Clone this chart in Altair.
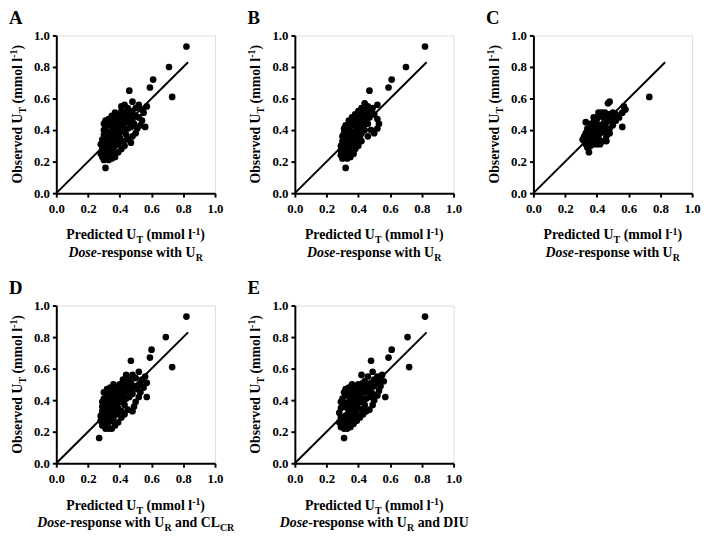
import altair as alt
import pandas as pd

# ---------------- data (predicted U_T, observed U_T) ----------------
A_PTS = [
    (0.82, 0.93), (0.71, 0.80), (0.61, 0.72), (0.59, 0.67), (0.73, 0.61), (0.46, 0.65), (0.56, 0.42), (0.31, 0.16),
    (0.48, 0.58), (0.52, 0.56), (0.57, 0.55), (0.55, 0.51), (0.43, 0.56), (0.45, 0.54), (0.50, 0.54), (0.54, 0.53),
    (0.47, 0.52), (0.41, 0.52), (0.39, 0.50), (0.37, 0.48), (0.35, 0.46), (0.33, 0.44), (0.31, 0.42), (0.30, 0.40),
    (0.54, 0.46), (0.52, 0.48), (0.53, 0.43), (0.51, 0.41), (0.50, 0.38), (0.48, 0.36), (0.47, 0.32), (0.45, 0.34),
    (0.43, 0.30), (0.41, 0.28), (0.39, 0.26), (0.37, 0.23), (0.35, 0.22), (0.33, 0.21), (0.30, 0.21), (0.29, 0.23),
    (0.28, 0.25), (0.29, 0.28), (0.28, 0.31), (0.29, 0.34), (0.30, 0.37), (0.31, 0.33),
    (0.32, 0.24), (0.34, 0.25), (0.36, 0.26), (0.31, 0.27), (0.33, 0.28), (0.35, 0.29), (0.37, 0.30), (0.39, 0.31),
    (0.32, 0.30), (0.34, 0.32), (0.36, 0.33), (0.38, 0.34), (0.40, 0.35), (0.42, 0.33), (0.44, 0.37), (0.33, 0.35),
    (0.35, 0.36), (0.37, 0.37), (0.39, 0.38), (0.41, 0.39), (0.43, 0.40), (0.45, 0.41), (0.47, 0.42), (0.49, 0.44),
    (0.32, 0.38), (0.34, 0.39), (0.36, 0.41), (0.38, 0.42), (0.40, 0.43), (0.42, 0.44), (0.44, 0.45), (0.46, 0.46),
    (0.48, 0.47), (0.50, 0.49), (0.34, 0.43), (0.36, 0.44), (0.38, 0.45), (0.40, 0.47), (0.42, 0.48), (0.44, 0.49),
    (0.46, 0.50), (0.48, 0.51), (0.40, 0.40), (0.38, 0.39), (0.41, 0.45), (0.43, 0.51), (0.45, 0.47), (0.37, 0.35),
    (0.35, 0.39), (0.31, 0.36), (0.30, 0.44), (0.31, 0.46), (0.33, 0.47), (0.35, 0.49), (0.37, 0.51), (0.41, 0.55),
]

B_PTS = [
    (0.82, 0.93), (0.70, 0.80), (0.61, 0.72), (0.59, 0.67), (0.47, 0.65), (0.32, 0.16),
    (0.44, 0.57), (0.52, 0.56), (0.49, 0.54), (0.42, 0.54), (0.46, 0.55), (0.40, 0.52), (0.38, 0.50), (0.36, 0.48),
    (0.34, 0.46), (0.32, 0.43), (0.31, 0.41),
    (0.53, 0.44), (0.52, 0.47), (0.50, 0.50), (0.47, 0.48), (0.45, 0.50), (0.50, 0.38), (0.46, 0.36), (0.48, 0.40),
    (0.52, 0.41), (0.44, 0.40), (0.43, 0.43), (0.42, 0.33), (0.40, 0.30), (0.38, 0.28), (0.37, 0.25), (0.35, 0.23),
    (0.33, 0.22), (0.30, 0.22), (0.29, 0.24),
    (0.29, 0.27), (0.29, 0.30), (0.30, 0.33), (0.30, 0.36), (0.31, 0.38),
    (0.31, 0.26), (0.33, 0.25), (0.32, 0.29), (0.34, 0.28), (0.36, 0.27), (0.33, 0.31), (0.35, 0.31), (0.37, 0.32),
    (0.39, 0.33), (0.32, 0.34), (0.34, 0.35), (0.36, 0.35), (0.38, 0.36), (0.40, 0.37), (0.42, 0.38), (0.33, 0.38),
    (0.35, 0.39), (0.37, 0.39), (0.39, 0.40), (0.41, 0.41), (0.34, 0.42), (0.36, 0.43), (0.38, 0.44), (0.40, 0.45),
    (0.42, 0.46), (0.44, 0.47), (0.35, 0.45), (0.37, 0.46), (0.39, 0.47), (0.41, 0.49), (0.43, 0.50), (0.45, 0.52),
    (0.39, 0.42), (0.36, 0.38), (0.41, 0.36), (0.44, 0.44), (0.38, 0.31), (0.35, 0.34), (0.31, 0.31), (0.40, 0.43),
    (0.43, 0.53), (0.48, 0.52), (0.46, 0.44),
]

C_PTS = [
    (0.73, 0.61), (0.48, 0.58), (0.47, 0.57), (0.57, 0.55), (0.58, 0.53), (0.56, 0.51), (0.56, 0.42), (0.35, 0.26),
    (0.33, 0.45), (0.31, 0.34), (0.32, 0.33), (0.32, 0.36), (0.33, 0.31), (0.34, 0.29), (0.35, 0.32), (0.36, 0.30),
    (0.34, 0.35), (0.36, 0.34), (0.38, 0.33), (0.33, 0.38), (0.35, 0.38), (0.37, 0.37), (0.39, 0.36), (0.41, 0.35),
    (0.40, 0.31), (0.42, 0.31), (0.44, 0.33), (0.46, 0.33), (0.48, 0.38), (0.46, 0.36), (0.34, 0.41), (0.36, 0.41),
    (0.38, 0.40), (0.40, 0.39), (0.42, 0.38), (0.44, 0.39), (0.46, 0.40), (0.48, 0.41), (0.50, 0.43), (0.52, 0.46),
    (0.54, 0.48), (0.36, 0.44), (0.38, 0.45), (0.40, 0.44), (0.42, 0.43), (0.44, 0.44), (0.46, 0.45), (0.48, 0.46),
    (0.50, 0.47), (0.38, 0.48), (0.40, 0.47), (0.42, 0.49), (0.44, 0.48), (0.46, 0.49), (0.48, 0.50), (0.50, 0.51),
    (0.41, 0.51), (0.43, 0.51), (0.45, 0.51), (0.47, 0.50), (0.52, 0.50), (0.39, 0.43), (0.43, 0.41), (0.37, 0.39),
    (0.35, 0.36), (0.45, 0.42), (0.41, 0.33), (0.38, 0.31),
]

D_PTS = [
    (0.82, 0.93), (0.69, 0.80), (0.60, 0.72), (0.59, 0.67), (0.73, 0.61), (0.47, 0.65), (0.57, 0.42), (0.27, 0.16),
    (0.39, 0.26),
    (0.52, 0.58), (0.56, 0.55), (0.44, 0.56), (0.57, 0.51), (0.48, 0.56), (0.50, 0.54), (0.54, 0.53), (0.46, 0.53),
    (0.42, 0.53), (0.40, 0.50), (0.38, 0.49), (0.36, 0.47), (0.34, 0.45), (0.32, 0.43), (0.30, 0.41), (0.29, 0.39),
    (0.55, 0.48), (0.53, 0.45), (0.52, 0.42), (0.50, 0.39), (0.49, 0.36), (0.48, 0.33), (0.45, 0.34), (0.43, 0.31),
    (0.41, 0.29), (0.37, 0.24), (0.35, 0.22), (0.33, 0.22), (0.31, 0.22), (0.29, 0.24),
    (0.28, 0.27), (0.28, 0.30), (0.29, 0.33), (0.29, 0.36), (0.30, 0.38),
    (0.31, 0.25), (0.33, 0.26), (0.35, 0.27), (0.30, 0.28), (0.32, 0.29), (0.34, 0.30), (0.36, 0.29), (0.38, 0.31),
    (0.31, 0.31), (0.33, 0.33), (0.35, 0.33), (0.37, 0.34), (0.39, 0.35), (0.41, 0.33), (0.43, 0.37), (0.32, 0.35),
    (0.34, 0.36), (0.36, 0.37), (0.38, 0.38), (0.40, 0.39), (0.42, 0.40), (0.44, 0.41), (0.46, 0.42), (0.48, 0.44),
    (0.31, 0.38), (0.33, 0.39), (0.35, 0.41), (0.37, 0.42), (0.39, 0.43), (0.41, 0.44), (0.43, 0.45), (0.45, 0.46),
    (0.47, 0.47), (0.49, 0.49), (0.33, 0.42), (0.35, 0.44), (0.37, 0.45), (0.39, 0.46), (0.41, 0.48), (0.43, 0.49),
    (0.45, 0.50), (0.47, 0.51), (0.39, 0.40), (0.37, 0.39), (0.40, 0.45), (0.42, 0.51), (0.44, 0.47), (0.36, 0.35),
    (0.34, 0.39), (0.30, 0.35), (0.51, 0.47), (0.53, 0.50), (0.30, 0.45), (0.32, 0.47), (0.34, 0.48), (0.36, 0.50),
]

E_PTS = [
    (0.82, 0.93), (0.71, 0.80), (0.61, 0.72), (0.59, 0.67), (0.72, 0.61), (0.48, 0.65), (0.57, 0.42), (0.31, 0.16),
    (0.49, 0.58), (0.55, 0.56), (0.42, 0.56), (0.56, 0.52), (0.52, 0.55), (0.46, 0.55), (0.50, 0.53), (0.53, 0.53),
    (0.44, 0.52), (0.40, 0.50), (0.38, 0.49), (0.36, 0.47), (0.34, 0.45), (0.32, 0.43), (0.30, 0.41), (0.29, 0.39),
    (0.54, 0.49), (0.53, 0.46), (0.52, 0.43), (0.50, 0.40), (0.49, 0.37), (0.47, 0.34), (0.45, 0.33), (0.43, 0.31),
    (0.41, 0.29), (0.39, 0.27), (0.37, 0.25), (0.35, 0.23), (0.33, 0.22), (0.31, 0.22), (0.29, 0.23),
    (0.28, 0.26), (0.29, 0.29), (0.28, 0.32), (0.29, 0.35), (0.30, 0.37),
    (0.32, 0.24), (0.34, 0.25), (0.36, 0.27), (0.31, 0.27), (0.33, 0.28), (0.35, 0.29), (0.37, 0.30), (0.39, 0.31),
    (0.32, 0.30), (0.34, 0.32), (0.36, 0.33), (0.38, 0.34), (0.40, 0.35), (0.42, 0.34), (0.44, 0.37), (0.33, 0.35),
    (0.35, 0.36), (0.37, 0.37), (0.39, 0.38), (0.41, 0.39), (0.43, 0.40), (0.45, 0.41), (0.47, 0.42), (0.49, 0.44),
    (0.32, 0.38), (0.34, 0.39), (0.36, 0.41), (0.38, 0.42), (0.40, 0.43), (0.42, 0.44), (0.44, 0.45), (0.46, 0.46),
    (0.48, 0.47), (0.50, 0.49), (0.34, 0.43), (0.36, 0.44), (0.38, 0.45), (0.40, 0.47), (0.42, 0.48), (0.44, 0.49),
    (0.46, 0.50), (0.48, 0.51), (0.40, 0.40), (0.38, 0.39), (0.41, 0.45), (0.43, 0.51), (0.45, 0.47), (0.37, 0.35),
    (0.35, 0.39), (0.31, 0.36), (0.51, 0.51), (0.31, 0.45), (0.32, 0.47), (0.34, 0.48), (0.36, 0.50),
]

LINE_PRED = [0.0, 0.83]
LINE_OBS = [0.0, 0.83]
TICK_VALUES = [0.0, 0.2, 0.4, 0.6, 0.8, 1.0]
LETTERS = ["A", "B", "C", "D", "E"]
PANEL_POINTS = [A_PTS, B_PTS, C_PTS, D_PTS, E_PTS]
# subtitle runs: (text, kind)  kind: n=bold, i=bold italic, sub=subscript, sup=superscript
SUBTITLES = [
    [("Dose", "i"), ("-response with U", "n"), ("R", "sub")],
    [("Dose", "i"), ("-response with U", "n"), ("R", "sub")],
    [("Dose", "i"), ("-response with U", "n"), ("R", "sub")],
    [("Dose", "i"), ("-response with U", "n"), ("R", "sub"), (" and CL", "n"), ("CR", "sub")],
    [("Dose", "i"), ("-response with U", "n"), ("R", "sub"), (" and DIU", "n")],
]
X_TITLE = [("Predicted U", "n"), ("T", "sub"), (" (mmol l", "n"), ("-1", "sup"), (")", "n")]
Y_TITLE = [("Observed U", "n"), ("T", "sub"), (" (mmol l", "n"), ("-1", "sup"), (")", "n")]

# ---------------- styling ----------------
FONT = "Liberation Serif"
PW, PH = 161, 160
TITLE_FS, SMALL_FS, TICK_FS, LETTER_FS = 14, 10, 13, 19
SHIFT = {"n": 0, "i": 0, "sub": 4, "sup": -5}

# Times bold advance widths (per 1000 em) for laying out composed titles
ADV = {" ": 250, "(": 333, ")": 333, "-": 333, ".": 250, "1": 500,
       "A": 722, "B": 667, "C": 722, "D": 722, "E": 667, "I": 389, "L": 667, "O": 778,
       "P": 611, "R": 722, "T": 667, "U": 722,
       "a": 500, "b": 556, "c": 444, "d": 556, "e": 444, "h": 556, "i": 278, "l": 278,
       "m": 833, "n": 556, "o": 500, "p": 556, "r": 444, "s": 389, "t": 333, "v": 500, "w": 722}

ONE = pd.DataFrame({"k": [0]})


def run_size(kind):
    return SMALL_FS if kind in ("sub", "sup") else TITLE_FS


def run_width(txt, kind):
    return sum(ADV.get(ch, 500) for ch in txt) * run_size(kind) / 1000.0


def piece(txt, x, y, size, italic=False, angle=0):
    kw = dict(font=FONT, fontSize=size, fontWeight="bold", align="left",
              baseline="alphabetic", color="black")
    if italic:
        kw["fontStyle"] = "italic"
    if angle:
        kw["angle"] = angle
    return alt.Chart(ONE).mark_text(**kw).encode(
        x=alt.value(x), y=alt.value(y), text=alt.value(txt))


def composed(runs, center, base, vertical=False):
    total = sum(run_width(t, k) for t, k in runs)
    layers = []
    off = 0.0
    for t, k in runs:
        lead = len(t) - len(t.lstrip(" "))
        # leading blanks are trimmed by the renderer: advance past them instead
        o = off + run_width(" " * lead, k)
        s = t.strip(" ")
        if vertical:
            layers.append(piece(s, base + SHIFT[k], center + total / 2 - o, run_size(k),
                                italic=(k == "i"), angle=270))
        else:
            layers.append(piece(s, center - total / 2 + o, base + SHIFT[k], run_size(k),
                                italic=(k == "i")))
        off += run_width(t, k)
    return layers


def axis(pad):
    return alt.Axis(values=TICK_VALUES, format=".1f", title=None, grid=False,
                    domainColor="black", domainWidth=2, tickColor="black", tickWidth=2,
                    tickSize=4, labelFont=FONT, labelFontWeight="bold", labelFontSize=TICK_FS,
                    labelColor="black", labelPadding=pad, labelFlush=False)


def panel(letter, pts, subtitle):
    df = pd.DataFrame(pts, columns=["pred", "obs"])
    line_df = pd.DataFrame({"pred": LINE_PRED, "obs": LINE_OBS})
    xs = alt.Scale(domain=[0, 1], nice=False)
    ys = alt.Scale(domain=[0, 1], nice=False)
    X = alt.X("pred:Q", scale=xs, axis=axis(6))
    Y = alt.Y("obs:Q", scale=ys, axis=axis(3))
    line = alt.Chart(line_df).mark_line(color="black", strokeWidth=2).encode(x=X, y=Y)
    dots = alt.Chart(df).mark_circle(size=46, color="black", opacity=1).encode(x=X, y=Y)
    layers = [line, dots]
    layers.append(piece(letter, -48, -12, LETTER_FS))
    layers += composed(X_TITLE, PW / 2, PH + 47)
    layers += composed(subtitle, PW / 2, PH + 65)
    layers += composed(Y_TITLE, PH / 2, -35, vertical=True)
    return alt.layer(*layers).properties(width=PW, height=PH)


panels = [panel(l, p, s) for l, p, s in zip(LETTERS, PANEL_POINTS, SUBTITLES)]

chart = alt.concat(*panels, columns=3, spacing={"row": 114, "column": 81},
                   bounds="flush").properties(
    padding={"left": 0, "top": -4, "right": 0, "bottom": 0}
).configure_view(strokeWidth=0).configure(background="white")

chart.save("out.html", embed_options={"renderer": "svg", "actions": False})
